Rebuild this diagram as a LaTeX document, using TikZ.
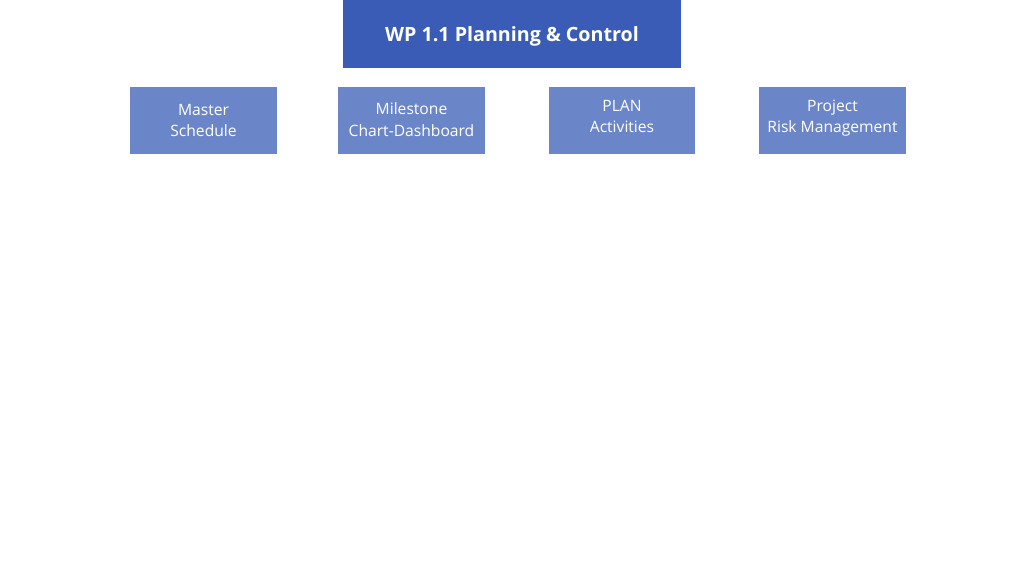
\documentclass[tikz,border=0pt]{standalone}
\usepackage{fontspec}
\setmainfont{Open Sans}
\usepackage{tikz}
\usetikzlibrary{positioning}

\definecolor{wpblue}{HTML}{3A5CB6}
\definecolor{taskblue}{HTML}{6B86C8}

\tikzset{
  wpbox/.style={rectangle, fill=wpblue, text=white, minimum width=6.76cm, minimum height=1.36cm, inner sep=0pt, text height=11.5pt, text depth=2.7pt, font=\fontsize{11.2}{14}\selectfont\bfseries},
  taskbox/.style={rectangle, fill=taskblue, text=white, minimum width=2.94cm, minimum height=1.34cm, inner sep=0pt, align=center, font=\fontsize{8.9}{12}\selectfont}
}

\begin{document}
\begin{tikzpicture}[x=0.02cm, y=-0.02cm]

	\useasboundingbox (0,0) rectangle (1024,576);

	% Nodes
    \node[wpbox] (wp) at (512, 34) {WP 1.1 Planning \& Control};

    \node[taskbox, text depth=0.5pt] (master) at (203.5, 120.5) {Master\\Schedule};
    \node[taskbox, text depth=0.5pt] (milestone) at (411.5, 120) {Milestone\\Chart-Dashboard};
    \node[taskbox, text depth=4pt] (plan) at (622, 120) {PLAN\\Activities};
    \node[taskbox, text depth=4pt] (risk) at (832.5, 120) {Project\\Risk Management};

\end{tikzpicture}
\end{document}
